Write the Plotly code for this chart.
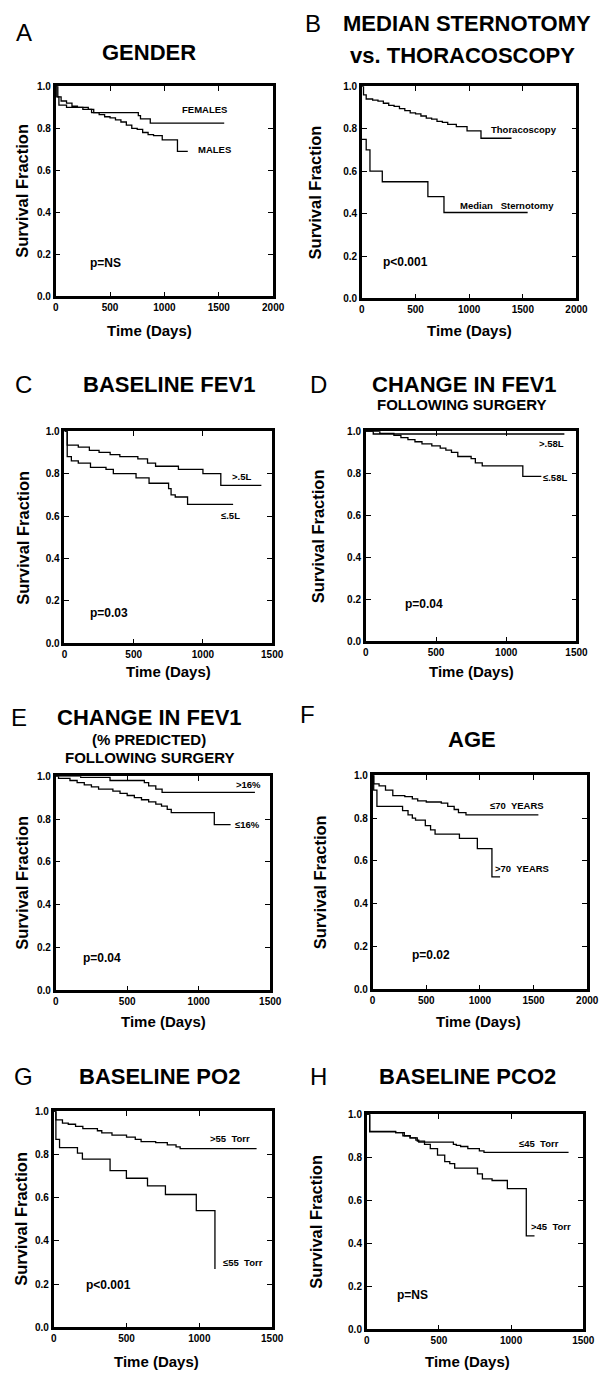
import plotly.graph_objects as go

W, H = 607, 1376
FONT = "Liberation Sans, Arial, sans-serif"

# ---------------- DATA ----------------
# Panel A: Gender
a_fem_t = [0, 10, 30, 100, 250, 330, 760, 780, 870]
a_fem_s = [1.0, 0.95, 0.91, 0.90, 0.89, 0.875, 0.86, 0.845, 0.825]
a_fem_end = 1550
a_mal_t = [0, 20, 50, 100, 150, 200, 300, 350, 400, 450, 500, 550, 600, 650, 700, 750, 800, 850, 900, 980, 1120]
a_mal_s = [1.0, 0.95, 0.93, 0.92, 0.905, 0.90, 0.89, 0.875, 0.865, 0.855, 0.85, 0.84, 0.83, 0.815, 0.80, 0.795, 0.78, 0.77, 0.765, 0.745, 0.69]
a_mal_end = 1215

# Panel B: Median sternotomy vs thoracoscopy
b_tho_t = [0, 15, 40, 100, 150, 200, 250, 300, 350, 400, 450, 500, 550, 600, 650, 700, 750, 800, 880, 980, 1110]
b_tho_s = [1.0, 0.96, 0.94, 0.935, 0.93, 0.92, 0.91, 0.905, 0.895, 0.885, 0.875, 0.87, 0.86, 0.85, 0.845, 0.835, 0.83, 0.82, 0.81, 0.79, 0.755]
b_tho_end = 1395
b_ms_t = [0, 40, 75, 190, 615, 765]
b_ms_s = [0.75, 0.70, 0.60, 0.55, 0.48, 0.405]
b_ms_end = 1545

# Panel C: Baseline FEV1
c_hi_t = [0, 20, 100, 180, 250, 330, 400, 530, 600, 658, 823, 1000, 1129]
c_hi_s = [1.0, 0.935, 0.925, 0.91, 0.90, 0.89, 0.88, 0.87, 0.85, 0.835, 0.82, 0.80, 0.745]
c_hi_end = 1422
c_lo_t = [0, 20, 50, 100, 188, 300, 353, 517, 611, 752, 770, 800, 889]
c_lo_s = [1.0, 0.88, 0.86, 0.85, 0.83, 0.82, 0.80, 0.78, 0.755, 0.73, 0.70, 0.69, 0.655]
c_lo_end = 1218

# Panel D: Change in FEV1 following surgery
d_hi_t = [0, 53]
d_hi_s = [1.0, 0.987]
d_hi_end = 1414
d_lo_t = [0, 100, 200, 250, 300, 350, 400, 470, 530, 570, 610, 655, 750, 780, 829, 1118]
d_lo_s = [1.0, 0.99, 0.98, 0.97, 0.96, 0.95, 0.94, 0.93, 0.92, 0.91, 0.90, 0.88, 0.87, 0.85, 0.835, 0.785]
d_lo_end = 1250

# Panel E: Change in FEV1 (% predicted)
e_hi_t = [0, 175, 380, 620, 650, 700, 744]
e_hi_s = [1.0, 0.995, 0.98, 0.97, 0.955, 0.94, 0.925]
e_hi_end = 1393
e_lo_t = [0, 20, 100, 150, 200, 250, 300, 400, 450, 500, 550, 600, 650, 700, 740, 780, 808, 1109]
e_lo_s = [1.0, 0.99, 0.98, 0.97, 0.96, 0.95, 0.94, 0.93, 0.92, 0.91, 0.90, 0.89, 0.88, 0.87, 0.86, 0.845, 0.83, 0.774]
e_lo_end = 1223

# Panel F: Age
f_lo_t = [0, 10, 60, 120, 188, 300, 370, 420, 500, 640, 700, 760, 800, 870]
f_lo_s = [1.0, 0.96, 0.95, 0.93, 0.905, 0.90, 0.89, 0.88, 0.875, 0.87, 0.855, 0.84, 0.825, 0.815]
f_lo_end = 1545
f_hi_t = [0, 10, 40, 279, 330, 370, 400, 491, 540, 582, 809, 976, 1112]
f_hi_s = [1.0, 0.93, 0.855, 0.835, 0.815, 0.80, 0.79, 0.765, 0.745, 0.725, 0.705, 0.657, 0.525]
f_hi_end = 1188

# Panel G: Baseline PO2
g_hi_t = [0, 15, 60, 100, 150, 200, 300, 330, 400, 500, 560, 600, 700, 780, 840, 868]
g_hi_s = [1.0, 0.96, 0.945, 0.94, 0.93, 0.92, 0.91, 0.90, 0.89, 0.88, 0.87, 0.86, 0.855, 0.845, 0.835, 0.827]
g_hi_end = 1393
g_lo_t = [0, 15, 40, 163, 197, 387, 499, 644, 767, 979, 1107]
g_lo_s = [1.0, 0.87, 0.832, 0.806, 0.779, 0.725, 0.69, 0.655, 0.615, 0.54, 0.27]
g_lo_end = 1107

# Panel H: Baseline PCO2
h_lo_t = [0, 20, 200, 250, 300, 340, 360, 600, 620, 650, 700, 780, 812]
h_lo_s = [1.0, 0.918, 0.915, 0.90, 0.89, 0.88, 0.87, 0.86, 0.855, 0.85, 0.84, 0.83, 0.823]
h_lo_end = 1398
h_hi_t = [0, 20, 200, 260, 300, 350, 400, 440, 490, 540, 575, 609, 767, 801, 868, 974, 1105]
h_hi_s = [1.0, 0.92, 0.915, 0.90, 0.89, 0.875, 0.86, 0.84, 0.81, 0.78, 0.77, 0.75, 0.723, 0.70, 0.692, 0.654, 0.435]
h_hi_end = 1162

# ---------------- PANELS ----------------
panels = [
    dict(letter="A", xmax=2000, box=(54, 277, 81, 293),
         series=[(a_fem_t, a_fem_s, a_fem_end), (a_mal_t, a_mal_s, a_mal_end)],
         labels=[("FEMALES", 1145, 0.891), ("MALES", 1289, 0.698)],
         p=("p=NS", 297, 0.157)),
    dict(letter="B", xmax=2000, box=(368, 588, 81, 295),
         series=[(b_tho_t, b_tho_s, b_tho_end), (b_ms_t, b_ms_s, b_ms_end)],
         labels=[("Thoracoscopy", 1181, 0.794), ("Median   Sternotomy", 898, 0.439)],
         p=("p<0.001", 179, 0.171)),
    dict(letter="C", xmax=1500, box=(63, 276, 429, 643),
         series=[(c_hi_t, c_hi_s, c_hi_end), (c_lo_t, c_lo_s, c_lo_end)],
         labels=[(">.5L", 1192, 0.787), ("≤.5L", 1117, 0.603)],
         p=("p=0.03", 169, 0.143)),
    dict(letter="D", xmax=1500, box=(372, 588, 429, 641),
         series=[(d_hi_t, d_hi_s, d_hi_end), (d_lo_t, d_lo_s, d_lo_end)],
         labels=[(">.58L", 1222, 0.94), ("≤.58L", 1250, 0.78)],
         p=("p=0.04", 266, 0.177)),
    dict(letter="E", xmax=1500, box=(54, 274, 777, 993),
         series=[(e_hi_t, e_hi_s, e_hi_end), (e_lo_t, e_lo_s, e_lo_end)],
         labels=[(">16%", 1245, 0.962), ("≤16%", 1240, 0.774)],
         p=("p=0.04", 175, 0.151)),
    dict(letter="F", xmax=2000, box=(379, 599, 776, 992),
         series=[(f_lo_t, f_lo_s, f_lo_end), (f_hi_t, f_hi_s, f_hi_end)],
         labels=[("≤70  YEARS", 1073, 0.858), (">70  YEARS", 1121, 0.564)],
         p=("p=0.02", 345, 0.162)),
    dict(letter="G", xmax=1500, box=(52, 276, 1115, 1333),
         series=[(g_hi_t, g_hi_s, g_hi_end), (g_lo_t, g_lo_s, g_lo_end)],
         labels=[(">55  Torr", 1057, 0.873), ("≤55  Torr", 1151, 0.302)],
         p=("p<0.001", 208, 0.198)),
    dict(letter="H", xmax=1500, box=(373, 595, 1118, 1335),
         series=[(h_lo_t, h_lo_s, h_lo_end), (h_hi_t, h_hi_s, h_hi_end)],
         labels=[("≤45  Torr", 1042, 0.866), (">45  Torr", 1123, 0.477)],
         p=("p=NS", 196, 0.158)),
]

texts = {
    "A": dict(letter=(22, 27), titles=[("GENDER", 150, 47, 22)], ytx=20, xt=(150, 327)),
    "B": dict(letter=(318, 18), titles=[("MEDIAN STERNOTOMY", 476, 18, 22), ("vs. THORACOSCOPY", 471, 50, 22)], ytx=320, xt=(478, 327)),
    "C": dict(letter=(21, 382), titles=[("BASELINE FEV1", 170, 382, 22)], ytx=21, xt=(170, 671)),
    "D": dict(letter=(323, 382), titles=[("CHANGE IN FEV1", 473, 382, 22), ("FOLLOWING SURGERY", 470, 402, 15)], ytx=323, xt=(480, 671)),
    "E": dict(letter=(16, 718), titles=[("CHANGE IN FEV1", 150, 718, 22), ("(% PREDICTED)", 150, 740, 15), ("FOLLOWING SURGERY", 150, 758, 15)], ytx=20, xt=(165, 1024)),
    "F": dict(letter=(312, 715), titles=[("AGE", 481, 740, 22)], ytx=325, xt=(488, 1024)),
    "G": dict(letter=(21, 1080), titles=[("BASELINE PO2", 160, 1080, 22)], ytx=19, xt=(157, 1367)),
    "H": dict(letter=(323, 1080), titles=[("BASELINE PCO2", 476, 1080, 22)], ytx=321, xt=(476, 1367)),
}

fig = go.Figure()
layout = dict(
    width=W, height=H, margin=dict(l=0, r=0, t=0, b=0),
    paper_bgcolor="white", plot_bgcolor="white", showlegend=False,
    font=dict(family=FONT, color="black"),
)
annotations = []

def px(x):
    return x / W

def py(y):
    return 1 - y / H

for i, p in enumerate(panels, start=1):
    xa = "x" if i == 1 else f"x{i}"
    ya = "y" if i == 1 else f"y{i}"
    l, r, t, b = p["box"]
    for (tt, ss, end) in p["series"]:
        fig.add_trace(go.Scatter(
            x=list(tt) + [end], y=list(ss) + [ss[-1]], mode="lines",
            line=dict(color="black", width=1.3, shape="hv"),
            xaxis=xa, yaxis=ya, hoverinfo="skip"))
    axcommon = dict(showline=True, linecolor="black", linewidth=2.6, mirror="ticks",
                    ticks="inside", ticklen=5, tickwidth=1.4, tickcolor="black",
                    showgrid=False, zeroline=False,
                    tickfont=dict(family=FONT, size=10, color="black", weight="bold"))
    layout["xaxis" if i == 1 else f"xaxis{i}"] = dict(
        domain=[px(l), px(r)], range=[0, p["xmax"]], anchor=ya,
        tickvals=list(range(0, p["xmax"] + 1, 500)), **axcommon)
    layout["yaxis" if i == 1 else f"yaxis{i}"] = dict(
        domain=[py(b), py(t)], range=[0, 1], anchor=xa,
        tickvals=[0, 0.2, 0.4, 0.6, 0.8, 1.0], tickformat=".1f", **axcommon)
    for (txt, lx, ly) in p["labels"]:
        annotations.append(dict(text=txt, x=lx, y=ly, xref=xa, yref=ya, xanchor="left",
                                yanchor="middle", showarrow=False,
                                font=dict(family=FONT, size=9.5, color="black", weight="bold")))
    ptxt, pxv, pyv = p["p"]
    annotations.append(dict(text=ptxt, x=pxv, y=pyv, xref=xa, yref=ya, xanchor="left",
                            yanchor="middle", showarrow=False,
                            font=dict(family=FONT, size=12, color="black", weight="bold")))
    tx = texts[p["letter"]]
    lx, ly = tx["letter"]
    annotations.append(dict(text=p["letter"], x=px(lx), y=py(ly), xref="paper", yref="paper",
                            xanchor="center", yanchor="middle", showarrow=False,
                            font=dict(family=FONT, size=24, color="black")))
    for (tt_, cx, cy, sz) in tx["titles"]:
        annotations.append(dict(text=tt_, x=px(cx), y=py(cy), xref="paper", yref="paper",
                                xanchor="center", yanchor="middle", showarrow=False,
                                font=dict(family=FONT, size=sz, color="black", weight="bold")))
    annotations.append(dict(text="Survival Fraction", x=px(tx["ytx"]), y=py((t + b) / 2),
                            xref="paper", yref="paper", xanchor="center", yanchor="middle",
                            textangle=-90, showarrow=False,
                            font=dict(family=FONT, size=16.5, color="black", weight="bold")))
    xx, xy = tx["xt"]
    annotations.append(dict(text="Time (Days)", x=px(xx), y=py(xy), xref="paper", yref="paper",
                            xanchor="center", yanchor="middle", showarrow=False,
                            font=dict(family=FONT, size=15, color="black", weight="bold")))

layout["annotations"] = annotations
fig.update_layout(**layout)
fig.write_html("out.html", config={"displayModeBar": False},
               post_script="document.body.style.margin='0px';document.body.style.padding='0px';")
